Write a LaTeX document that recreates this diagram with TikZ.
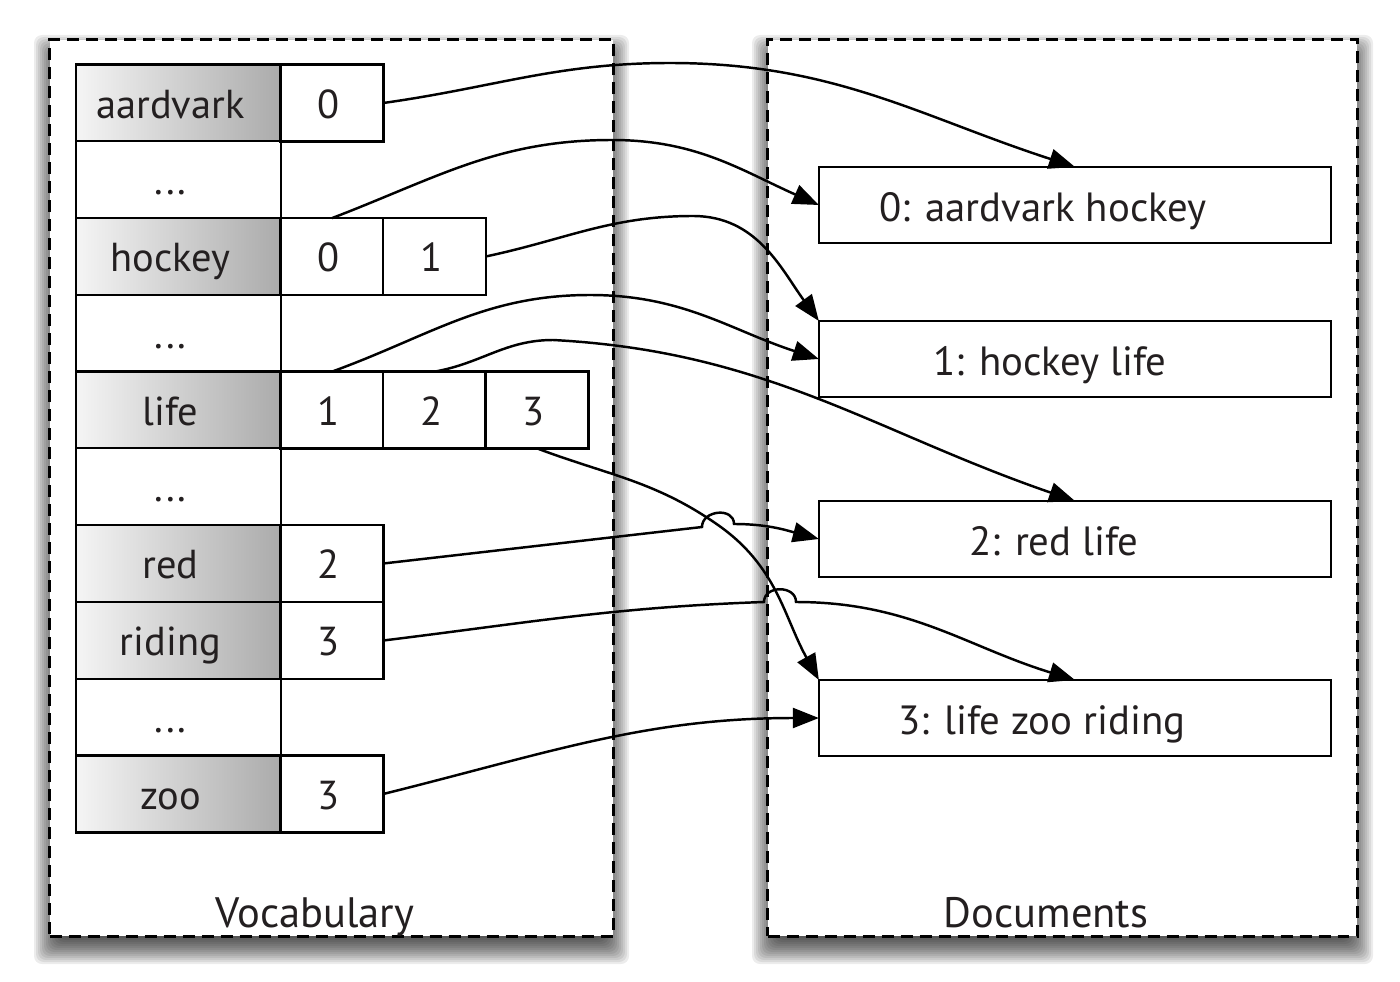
\documentclass[tikz,border=0pt]{standalone}
\usepackage{fontspec}
\setmainfont{PT Sans}
\usetikzlibrary{arrows.meta}
\definecolor{ink}{HTML}{231F20}
\begin{document}
\begin{tikzpicture}[x=0.01cm,y=-0.01cm,
  every node/.style={text=ink, inner sep=0pt, outer sep=0pt},
  panel/.style={draw=black, line width=0.85pt, dash pattern=on 3.4pt off 2pt, fill=white,
    minimum height=8.96cm},
  lab/.style={anchor=base, font=\fontsize{12.1}{15}\selectfont},
  cell/.style={draw=black, line width=0.7pt, minimum height=0.767cm,
    text height=0.3cm, text depth=0cm, font=\fontsize{11.5}{14}\selectfont},
  word/.style={cell, minimum width=2.05cm, left color=gray!8, right color=gray!66},
  gap/.style={cell, fill=white, minimum width=2.05cm},
  num/.style={cell, fill=white, minimum width=1.025cm},
  doc/.style={draw=black, line width=0.7pt, fill=white, minimum width=5.12cm, minimum height=0.76cm,
    text height=0.33cm, text depth=0cm, font=\fontsize{11.6}{15}\selectfont},
  link/.style={draw=black, line width=0.7pt},
  conn/.style={link, -{Triangle[length=0.26cm,width=0.2cm]}}
]
\useasboundingbox (0,0) rectangle (1400,982);
% soft shadows under the two panels
\foreach \e in {-16,-14,...,16}{
  \fill[black,opacity=0.075,rounded corners=0.08cm] ({50-(\e)},{51-(\e)}) rectangle ({613+(\e)},{948+(\e)});
  \fill[black,opacity=0.075,rounded corners=0.08cm] ({768-(\e)},{51-(\e)}) rectangle ({1357+(\e)},{948+(\e)});
}
% panels
\node[panel, minimum width=5.63cm] (voc) at (331.5,488) {};
\node[panel, minimum width=5.89cm] (docs) at (1062.5,488) {};
\node[lab] (voclab) at (315,927) {Vocabulary};
\node[lab] (doclab) at (1046,927) {Documents};
% vocabulary table
\node[word] (w0) at (178.5,103) {\hspace*{-0.16cm}aardvark};
\node[gap]  (g1) at (178.5,179.5) {\hspace*{-0.16cm}...};
\node[word] (w1) at (178.5,256.5) {\hspace*{-0.16cm}hockey};
\node[gap]  (g2) at (178.5,333.5) {\hspace*{-0.16cm}...};
\node[word] (w2) at (178.5,410) {\hspace*{-0.16cm}life};
\node[gap]  (g3) at (178.5,486.5) {\hspace*{-0.16cm}...};
\node[word] (w3) at (178.5,563.5) {\hspace*{-0.16cm}red};
\node[word] (w4) at (178.5,640.5) {\hspace*{-0.16cm}riding};
\node[gap]  (g4) at (178.5,717.5) {\hspace*{-0.16cm}...};
\node[word] (w5) at (178.5,794) {\hspace*{-0.16cm}zoo};
% posting lists
\node[num] (a0) at (332,103) {\hspace*{-0.06cm}0};
\node[num] (h0) at (332,256.5) {\hspace*{-0.06cm}0};
\node[num] (h1) at (434.5,256.5) {\hspace*{-0.06cm}1};
\node[num] (l1) at (332,410) {\hspace*{-0.06cm}1};
\node[num] (l2) at (434.5,410) {\hspace*{-0.06cm}2};
\node[num] (l3) at (537,410) {\hspace*{-0.06cm}3};
\node[num] (r2) at (332,563.5) {\hspace*{-0.06cm}2};
\node[num] (ri3) at (332,640.5) {\hspace*{-0.06cm}3};
\node[num] (z3) at (332,794) {\hspace*{-0.06cm}3};
% documents
\node[doc] (d0) at (1075,205) {\hspace*{-0.64cm}0: aardvark hockey};
\node[doc] (d1) at (1075,359) {\hspace*{-0.5cm}1: hockey life};
\node[doc] (d2) at (1075,539) {\hspace*{-0.42cm}2: red life};
\node[doc] (d3) at (1075,718) {\hspace*{-0.66cm}3: life zoo riding};
% connectors
\draw[conn] (a0.east) to[out=8,in=180] (670,63) to[out=0,in=162] (d0.north);
\draw[conn] (h0.north) to[out=21,in=180] (612,140) to[out=0,in=156] (d0.west);
\draw[conn] (h1.east) to[out=12,in=180] (693,216) to[out=0,in=126] (d1.north west);
\draw[conn] (l1.north) to[out=20,in=180] (590,295) to[out=0,in=162] (d1.west);
\draw[conn] (l2.north) to[out=10,in=180] (553,340) to[out=-3,in=161] (d2.north);
\draw[conn] (l3.south) to[out=-20.6,in=145] (718,525) to[out=-35,in=119] (d3.north west);
\draw[conn] (r2.east) -- (702,527) .. controls (702,510) and (734,507) .. (734,524) to[out=0,in=165] (d2.west);
\draw[conn] (ri3.east) to[out=7,in=182] (764,602) .. controls (764,585) and (796,585) .. (796,602) to[out=0,in=163] (d3.north);
\draw[conn] (z3.east) to[out=14,in=180] (d3.west);
\end{tikzpicture}
\end{document}
